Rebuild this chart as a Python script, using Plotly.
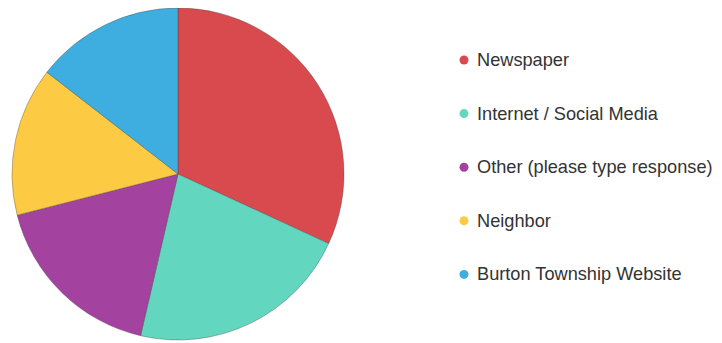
import plotly.graph_objects as go

labels = ["Newspaper", "Internet / Social Media", "Other (please type response)", "Neighbor", "Burton Township Website"]
values = [22, 15, 12, 10, 10]
colors = ["#d94a4e", "#62d6bf", "#a4429f", "#fdcb43", "#3eaee0"]

W, H = 722, 343
OFF = 8  # page body margin offset

fig = go.Figure()
fig.add_trace(go.Pie(
    labels=labels, values=values, sort=False, direction="clockwise", rotation=0,
    marker=dict(colors=colors, line=dict(color="rgba(60,60,60,0.35)", width=1)),
    textinfo="none", hoverinfo="label+percent", showlegend=False,
    domain=dict(x=[(12 - OFF) / W, (344 - OFF) / W], y=[1 - (340 - OFF) / H, 1.0]),
))

# custom legend
mx, tx = 464 - OFF, 475 - OFF
y0, step = 60 - OFF, 53.6
shapes, annos = [], []
for i, (lab, col) in enumerate(zip(labels, colors)):
    yy = 1 - (y0 + i * step) / H
    shapes.append(dict(type="circle", xref="paper", yref="paper",
                       xsizemode="pixel", ysizemode="pixel",
                       xanchor=mx / W, yanchor=yy, x0=-4.5, x1=4.5, y0=-4.5, y1=4.5,
                       fillcolor=col, line=dict(width=0)))
    annos.append(dict(x=tx / W, y=yy, xref="paper", yref="paper", text=lab,
                      showarrow=False, xanchor="left", yanchor="middle",
                      font=dict(family="Liberation Sans, Arial", size=18.2, color="#333333")))

fig.update_layout(
    width=W, height=H, margin=dict(l=0, r=0, t=0, b=0),
    paper_bgcolor="white", plot_bgcolor="white",
    shapes=shapes, annotations=annos,
)
fig.write_html("out.html")
